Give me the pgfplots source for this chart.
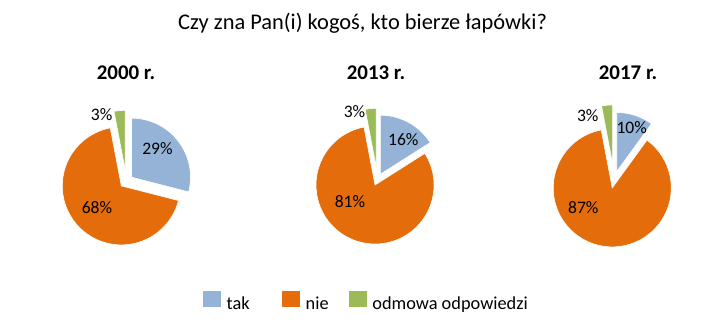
\documentclass[border=0pt]{standalone}
\usepackage{pgfplots}
\pgfplotsset{compat=1.18}
\usepackage{pgfplotstable}
\usepackage{fontspec}
\setmainfont{Carlito}
\definecolor{cTak}{HTML}{95B3D7}
\definecolor{cNie}{HTML}{E46C0A}
\definecolor{cOdm}{HTML}{9BBB59}

% shares in percent; cx, cy = pie centre, e / eg = explosion of slices (px)
\pgfplotstableread{
year tak nie odm cx    cy    e   eg
2000 29  68  3   126.2 181.3 6.7 12.0
2013 16  81  3   377.4 179.5 6.0 12.2
2017 10  87  3   614.1 179.6 8.5 15.7
}\piedata

\newcommand\pieslice[6]{% colour, start %, end %, cx, cy, explosion
  \pgfmathsetmacro\PSmid{(#2+#3)*1.8}%
  \pgfmathsetmacro\PSa{#2*3.6}%
  \pgfmathsetmacro\PSb{#3*3.6}%
  \pgfmathsetmacro\PSx{#4+#6*sin(\PSmid)}%
  \pgfmathsetmacro\PSy{#5-#6*cos(\PSmid)}%
  \edef\PStmp{\noexpand\addplot[fill=#1, draw=white, line width=0.6pt, domain=\PSa:\PSb, samples=90, forget plot] ({\PSx+59*sin(x)},{\PSy-59*cos(x)}) -- (axis cs:\PSx,\PSy) -- cycle;}%
  \PStmp}

\newcommand\drawpie[1]{%
  \pgfplotstablegetelem{#1}{tak}\of\piedata\let\Vtak\pgfplotsretval
  \pgfplotstablegetelem{#1}{nie}\of\piedata\let\Vnie\pgfplotsretval
  \pgfplotstablegetelem{#1}{cx}\of\piedata\let\Vcx\pgfplotsretval
  \pgfplotstablegetelem{#1}{cy}\of\piedata\let\Vcy\pgfplotsretval
  \pgfplotstablegetelem{#1}{e}\of\piedata\let\Ve\pgfplotsretval
  \pgfplotstablegetelem{#1}{eg}\of\piedata\let\Veg\pgfplotsretval
  \pgfmathsetmacro\Vsum{\Vtak+\Vnie}%
  \pieslice{cTak}{0}{\Vtak}{\Vcx}{\Vcy}{\Ve}%
  \pieslice{cNie}{\Vtak}{\Vsum}{\Vcx}{\Vcy}{\Ve}%
  \pieslice{cOdm}{\Vsum}{100}{\Vcx}{\Vcy}{\Veg}%
}

\begin{document}
\begin{tikzpicture}
\begin{axis}[
  width=719bp, height=324bp, scale only axis,
  xmin=0, xmax=719, ymin=0, ymax=324, y dir=reverse,
  axis line style={draw=none}, xtick=\empty, ytick=\empty, clip=false,
  legend image code/.code={\fill[#1] (0bp,-3.3bp) rectangle (17.6bp,13.3bp); \path (23.4bp,0bp);},
  legend style={at={(axis cs:203.3,301)}, anchor=west, draw=none, fill=none,
    inner sep=0pt, outer sep=0pt, legend columns=-1,
    font=\fontsize{18.4}{20}\selectfont,
    nodes={inner sep=0pt, outer sep=0pt},
    /tikz/every even column/.style={column sep=0pt}},
]
\drawpie{0}
\drawpie{1}
\drawpie{2}

\addlegendimage{fill=cTak, draw=none}
\addlegendentry{\makebox[55.6bp][l]{tak}}
\addlegendimage{fill=cNie, draw=none}
\addlegendentry{\makebox[43.3bp][l]{nie}}
\addlegendimage{fill=cOdm, draw=none}
\addlegendentry{odmowa odpowiedzi}

\node[anchor=base, font=\fontsize{22.5}{26}\selectfont] at (axis cs:362.5,30) {Czy zna Pan(i) kogoś, kto bierze łapówki?};
\node[anchor=base, font=\bfseries\fontsize{21}{24}\selectfont] at (axis cs:126,79.3) {2000 r.};
\node[anchor=base, font=\bfseries\fontsize{21}{24}\selectfont] at (axis cs:376,79.3) {2013 r.};
\node[anchor=base, font=\bfseries\fontsize{21}{24}\selectfont] at (axis cs:628,79.3) {2017 r.};

\begin{scope}[every node/.style={font=\fontsize{17.6}{20}\selectfont, inner sep=0pt}]
\node at (axis cs:157.5,148.5) {29\%};
\node at (axis cs:97,208) {68\%};
\node at (axis cs:101.7,114.3) {3\%};
\node at (axis cs:403.3,139.2) {16\%};
\node at (axis cs:350,201.7) {81\%};
\node at (axis cs:354.5,111.3) {3\%};
\node at (axis cs:631.7,127.5) {10\%};
\node at (axis cs:583.3,207.2) {87\%};
\node at (axis cs:587.8,115.8) {3\%};
\end{scope}
\end{axis}
\end{tikzpicture}
\end{document}
